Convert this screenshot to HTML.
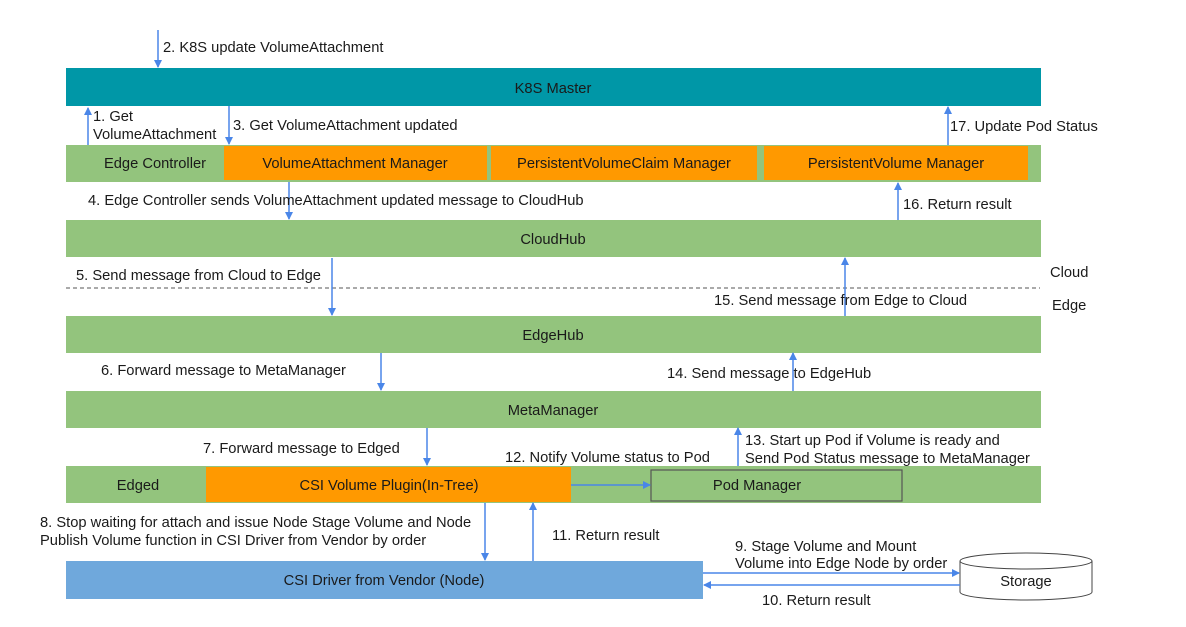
<!DOCTYPE html>
<html><head><meta charset="utf-8"><style>
html,body{margin:0;padding:0;background:#fff;width:1186px;height:627px;overflow:hidden}
text{font-family:"Liberation Sans",sans-serif;font-size:14.7px;fill:#1a1a1a}
</style></head><body>
<svg width="1186" height="627" viewBox="0 0 1186 627" xmlns="http://www.w3.org/2000/svg">
<defs><marker id="a" markerWidth="8" markerHeight="8" refX="7" refY="4" orient="auto" markerUnits="userSpaceOnUse"><path d="M0,0 L8,4 L0,8 z" fill="#4a86e8"/></marker></defs>
<rect x="66" y="68" width="975" height="38" fill="#0097a7"/>
<text x="553" y="93" text-anchor="middle">K8S Master</text>
<rect x="66" y="145" width="975" height="37" fill="#93c47d"/>
<text x="155" y="168" text-anchor="middle">Edge Controller</text>
<rect x="224" y="146" width="263" height="34" fill="#ff9900"/>
<text x="355" y="168" text-anchor="middle">VolumeAttachment Manager</text>
<rect x="491" y="146" width="266" height="34" fill="#ff9900"/>
<text x="624" y="168" text-anchor="middle">PersistentVolumeClaim Manager</text>
<rect x="764" y="146" width="264" height="34" fill="#ff9900"/>
<text x="896" y="168" text-anchor="middle">PersistentVolume Manager</text>
<rect x="66" y="220" width="975" height="37" fill="#93c47d"/>
<text x="553" y="244" text-anchor="middle">CloudHub</text>
<line x1="66" y1="288" x2="1040" y2="288" stroke="#555" stroke-dasharray="4,3"/>
<text x="1050" y="277">Cloud</text>
<text x="1052" y="310">Edge</text>
<rect x="66" y="316" width="975" height="37" fill="#93c47d"/>
<text x="553" y="340" text-anchor="middle">EdgeHub</text>
<rect x="66" y="391" width="975" height="37" fill="#93c47d"/>
<text x="553" y="415" text-anchor="middle">MetaManager</text>
<rect x="66" y="466" width="975" height="37" fill="#93c47d"/>
<text x="138" y="490" text-anchor="middle">Edged</text>
<rect x="206" y="467" width="365" height="35" fill="#ff9900"/>
<text x="389" y="490" text-anchor="middle">CSI Volume Plugin(In-Tree)</text>
<rect x="651" y="470" width="251" height="31" fill="#93c47d" stroke="#555" stroke-width="1.2"/>
<text x="757" y="490" text-anchor="middle">Pod Manager</text>
<rect x="66" y="561" width="637" height="38" fill="#6fa8dc"/>
<text x="384" y="585" text-anchor="middle">CSI Driver from Vendor (Node)</text>
<path d="M960,561 L960,592 A66,8 0 0 0 1092,592 L1092,561" fill="#fff" stroke="#444"/>
<ellipse cx="1026" cy="561" rx="66" ry="8" fill="#fff" stroke="#444"/>
<text x="1026" y="586" text-anchor="middle">Storage</text>
<g stroke="#4a86e8" stroke-width="1.5" marker-end="url(#a)">
<line x1="158" y1="30" x2="158" y2="67"/>
<line x1="88" y1="145" x2="88" y2="108"/>
<line x1="229" y1="106" x2="229" y2="144"/>
<line x1="948" y1="145" x2="948" y2="107"/>
<line x1="289" y1="182" x2="289" y2="219"/>
<line x1="898" y1="220" x2="898" y2="183"/>
<line x1="332" y1="258" x2="332" y2="315"/>
<line x1="845" y1="316" x2="845" y2="258"/>
<line x1="381" y1="353" x2="381" y2="390"/>
<line x1="793" y1="391" x2="793" y2="353"/>
<line x1="427" y1="428" x2="427" y2="465"/>
<line x1="738" y1="466" x2="738" y2="428"/>
<line x1="571" y1="485" x2="650" y2="485"/>
<line x1="485" y1="503" x2="485" y2="560"/>
<line x1="533" y1="561" x2="533" y2="503"/>
<line x1="703" y1="573" x2="959" y2="573"/>
<line x1="960" y1="585" x2="704" y2="585"/>
</g>
<text x="163" y="52">2. K8S update VolumeAttachment</text>
<text x="93" y="121">1. Get</text>
<text x="93" y="139">VolumeAttachment</text>
<text x="233" y="130">3. Get VolumeAttachment updated</text>
<text x="950" y="131">17. Update Pod Status</text>
<text x="88" y="205">4. Edge Controller sends VolumeAttachment updated message to CloudHub</text>
<text x="903" y="209">16. Return result</text>
<text x="76" y="280">5. Send message from Cloud to Edge</text>
<text x="714" y="305">15. Send message from Edge to Cloud</text>
<text x="101" y="375">6. Forward message to MetaManager</text>
<text x="667" y="378">14. Send message to EdgeHub</text>
<text x="203" y="453">7. Forward message to Edged</text>
<text x="505" y="462">12. Notify Volume status to Pod</text>
<text x="745" y="445">13. Start up Pod if Volume is ready and</text>
<text x="745" y="463">Send Pod Status message to MetaManager</text>
<text x="40" y="527">8. Stop waiting for attach and issue Node Stage Volume and Node</text>
<text x="40" y="545">Publish Volume function in CSI Driver from Vendor by order</text>
<text x="552" y="540">11. Return result</text>
<text x="735" y="551">9. Stage Volume and Mount</text>
<text x="735" y="568">Volume into Edge Node by order</text>
<text x="762" y="605">10. Return result</text>
</svg>
</body></html>
